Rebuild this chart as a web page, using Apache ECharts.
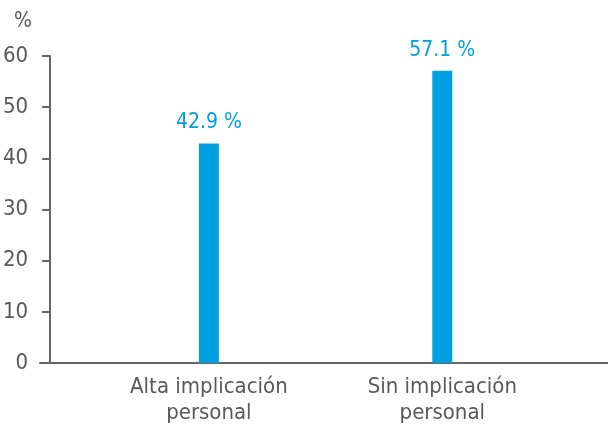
<!DOCTYPE html>
<html>
<head>
<meta charset="utf-8">
<title>Implicación personal</title>
<script type="text/javascript" src="https://cdn.jsdelivr.net/npm/echarts@6/dist/echarts.min.js"></script>
</head>
<body style="margin:0">
<div id="main" style="width: 608px; height: 428px;"></div>
<script type="text/javascript">
	var categories = ['Alta implicación\npersonal', 'Sin implicación\npersonal'];
	var values = [42.9, 57.1];
	var yTicks = [0, 10, 20, 30, 40, 50, 60];

	var font = '"DejaVu Sans Condensed", "Liberation Sans Narrow", sans-serif';
	var gray = '#666666';
	var textGray = '#595959';
	var blue = '#009fe0';

	var myChart = echarts.init(document.getElementById('main'));

	var option = {
		animation: false,
		title: {
			text: '%',
			left: 9,
			top: 6,
			textStyle: { fontFamily: font, fontSize: 21, fontWeight: 'normal', color: textGray }
		},
		grid: [
			// bars
			{ left: 89, right: 49, top: 56, bottom: 65 },
			// long bottom axis line
			{ left: 40, right: 0, top: 56, bottom: 65 }
		],
		xAxis: [
			{
				type: 'category',
				gridIndex: 0,
				data: categories,
				axisLine: { show: false },
				axisTick: { show: false },
				axisLabel: {
					fontFamily: font, fontSize: 22, color: textGray,
					lineHeight: 26, margin: 11
				}
			},
			{
				type: 'value',
				gridIndex: 1,
				min: 0, max: 1,
				axisLine: { show: true, lineStyle: { color: gray, width: 2 } },
				axisTick: { show: false },
				axisLabel: { show: false },
				splitLine: { show: false }
			}
		],
		yAxis: [
			{
				type: 'value',
				gridIndex: 0,
				min: yTicks[0],
				max: yTicks[yTicks.length - 1],
				interval: 10,
				offset: 42,
				axisLine: { show: true, lineStyle: { color: gray, width: 2 } },
				axisTick: { show: true, length: 8, lineStyle: { color: gray, width: 2 } },
				axisLabel: { fontFamily: font, fontSize: 22, color: textGray, margin: 22 },
				splitLine: { show: false }
			},
			{
				type: 'value',
				gridIndex: 1,
				min: 0, max: 1,
				show: false
			}
		],
		series: [
			{
				type: 'bar',
				xAxisIndex: 0,
				yAxisIndex: 0,
				data: values,
				barWidth: 20,
				itemStyle: { color: blue },
				label: {
					show: true,
					position: 'top',
					distance: 10,
					fontFamily: font,
					fontSize: 21,
					color: blue,
					formatter: function (p) { return p.value.toFixed(1) + ' %'; }
				}
			}
		]
	};

	myChart.setOption(option);
</script>
</body>
</html>
